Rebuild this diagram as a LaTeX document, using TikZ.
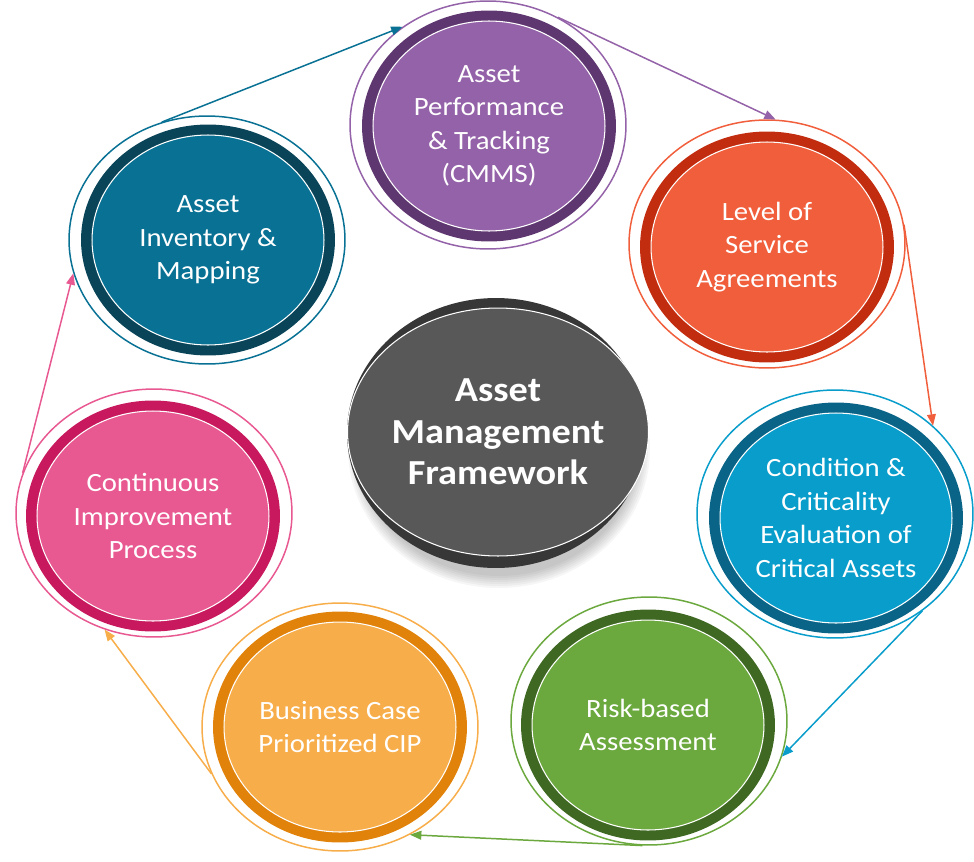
\documentclass[tikz,border=0pt]{standalone}
\usepackage{fontspec}
\setmainfont{Carlito}[FakeStretch=1.09]
\usetikzlibrary{shapes.geometric,arrows.meta}

\definecolor{invfill}{RGB}{8,113,148}
\definecolor{invdark}{RGB}{9,68,88}
\definecolor{perffill}{RGB}{148,98,168}
\definecolor{perfdark}{RGB}{95,55,112}
\definecolor{losfill}{RGB}{240,94,60}
\definecolor{losdark}{RGB}{195,45,15}
\definecolor{condfill}{RGB}{8,157,203}
\definecolor{conddark}{RGB}{10,100,135}
\definecolor{riskfill}{RGB}{107,168,62}
\definecolor{riskdark}{RGB}{63,105,35}
\definecolor{bizfill}{RGB}{247,173,73}
\definecolor{bizdark}{RGB}{225,130,10}
\definecolor{cipfill}{RGB}{232,88,145}
\definecolor{cipdark}{RGB}{200,25,95}
\definecolor{hubfill}{RGB}{88,88,88}
\definecolor{hubdark}{RGB}{55,55,55}

\tikzset{
  outer/.style={ellipse, draw=#1, line width=0.85pt, minimum width=5.52cm, minimum height=4.96cm, inner sep=0pt},
  band/.style={ellipse, fill=#1, minimum width=5.08cm, minimum height=4.62cm, inner sep=0pt},
  stage/.style={ellipse, fill=#1, draw=white, line width=0.6pt, minimum width=4.64cm, minimum height=4.2cm,
    inner sep=0pt, text=white, align=center, font=\fontsize{15}{19}\selectfont},
  link/.style={draw=#1, line width=0.85pt, -{Triangle[length=6.5pt,width=5pt]}},
}

\begin{document}
\begin{tikzpicture}[x=0.02cm, y=-0.02cm]
    \useasboundingbox (0,0) rectangle (974,862);
    % outer rings
    \node[outer=invfill]  (ringinv)  at (207,240) {};
    \node[outer=perffill] (ringperf) at (488,125) {};
    \node[outer=losfill]  (ringlos)  at (767,244) {};
    \node[outer=condfill] (ringcond) at (835,514) {};
    \node[outer=riskfill] (ringrisk) at (649,721) {};
    \node[outer=bizfill]  (ringbiz)  at (340,727) {};
    \node[outer=cipfill]  (ringcip)  at (154,513) {};
    % dark bands
    \node[band=invdark]  (bandinv)  at (208,240) {};
    \node[band=perfdark] (bandperf) at (489,126) {};
    \node[band=losdark]  (bandlos)  at (767,247) {};
    \node[band=conddark] (bandcond) at (836,518) {};
    \node[band=riskdark] (bandrisk) at (648,725) {};
    \node[band=bizdark]  (bandbiz)  at (340,727) {};
    \node[band=cipdark]  (bandcip)  at (153,516) {};
    % stages
    \node[stage=invfill]  (inv)  at (208,240) {Asset\\Inventory \&\\Mapping};
    \node[stage=perffill] (perf) at (489,126) {Asset\\Performance\\\& Tracking\\(CMMS)};
    \node[stage=losfill]  (los)  at (767,247) {Level of\\Service\\Agreements};
    \node[stage=condfill] (cond) at (836,518) {Condition \&\\Criticality\\Evaluation of\\Critical Assets};
    \node[stage=riskfill] (risk) at (648,725) {Risk-based\\Assessment};
    \node[stage=bizfill]  (biz)  at (340,727) {Business Case\\Prioritized CIP};
    \node[stage=cipfill]  (cip)  at (153,516) {Continuous\\Improvement\\Process};
    % centre, soft shadow first
    \foreach \g in {0,...,6}
        \fill[black, opacity=0.035] (499,449) ellipse ({139+2*\g} and {127+2*\g});
    \node[band=hubdark, minimum width=5.96cm, minimum height=5.4cm] (bandhub) at (496,433) {};
    \node[stage=hubfill, minimum width=5.38cm, minimum height=4.96cm,
      font=\bfseries\fontsize{20}{23.5}\selectfont] (amf) at (498,432) {Asset\\Management\\Framework};
    % cycle
    \draw[link=invfill]  (ringinv.111)  -- (ringperf.131);
    \draw[link=perffill] (ringperf.57)  -- (ringlos.86);
    \draw[link=losfill]  (ringlos.8)    -- (ringcond.42);
    \draw[link=condfill] (ringcond.-48) -- (ringrisk.-15);
    \draw[link=riskfill] (ringrisk.-93) -- (ringbiz.-57);
    \draw[link=bizfill]  (ringbiz.200)  -- (ringcip.247);
    \draw[link=cipfill]  (ringcip.163)  -- (ringinv.194);
\end{tikzpicture}
\end{document}
